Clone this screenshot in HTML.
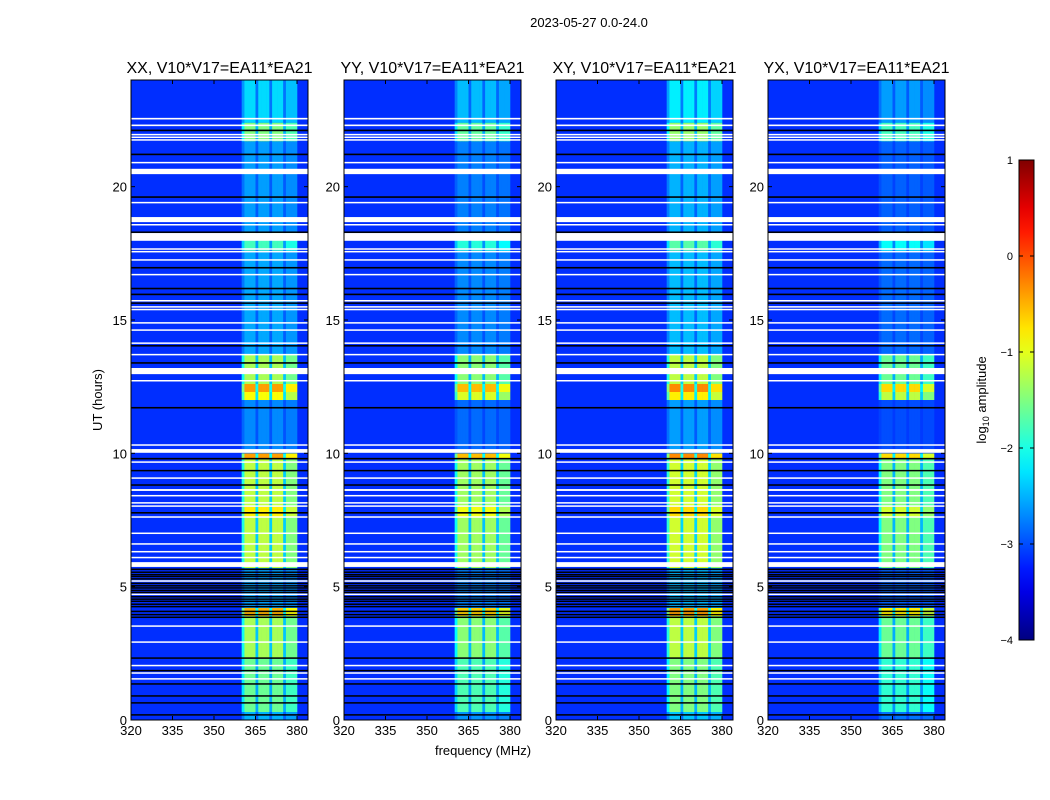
<!DOCTYPE html>
<html><head><meta charset="utf-8"><style>
body{margin:0;background:#fff;}
#root{position:relative;width:1050px;height:800px;overflow:hidden;font-family:"Liberation Sans","DejaVu Sans",sans-serif;}
</style></head><body>
<div id="root">
<svg id="svg" width="1050" height="800" style="position:absolute;left:0;top:0"></svg>
</div>
<script>
// ---- data ----
const panelTitles = ["XX, V10*V17=EA11*EA21","YY, V10*V17=EA11*EA21","XY, V10*V17=EA11*EA21","YX, V10*V17=EA11*EA21"];
const panelOffsets = [0, -0.15, 0.1, -0.3];
const freqTicks = [320,335,350,365,380];
const timeTicks = [0,5,10,15,20];
const cbarTicks = [1,0,-1,-2,-3,-4];
const backgroundLevel = -3.15;
// channel profile (1 MHz channels 320..383): 0=background, 1=band, fraction=dimmer
const channelProfile = [];
for (let c = 320; c < 384; c++) {
  let w = 0;
  if (c >= 360 && c < 380) w = 1;
  if (c === 360) w = 0.6;
  if (c === 365 || c === 370 || c === 375) w = 0.4;
  if (c >= 376 && c < 380) w = 0.85;
  channelProfile.push(w);
}
// band level segments [startHour, endHour, log10 amplitude]
const bandSegments = [[0,0.3,-2.5],[0.3,2.3,-1.6],[2.3,3.9,-1.3],[3.9,4.2,-0.5],[4.2,5.7,-2.6],[5.7,7.6,-1.2],[7.6,8.0,-0.8],[8.0,9.8,-1.2],[9.8,10.0,-0.4],[10.0,12.0,-2.7],[12.0,12.3,-0.9],[12.3,12.6,-0.4],[12.6,13.7,-1.3],[13.7,17.6,-2.55],[17.6,18.3,-1.8],[18.3,21.7,-2.6],[21.7,22.4,-1.5],[22.4,24,-2.3]];
// flagged rows (white) [start,end] hours
const whiteFlags = [[22.52,22.58],[22.27,22.33],[21.93,21.98],[21.83,21.88],[21.73,21.78],[20.88,20.93],[20.47,20.67],[19.38,19.43],[18.67,18.86],[18.55,18.6],[17.97,18.26],[17.64,17.69],[17.54,17.59],[17.23,17.28],[16.68,16.73],[15.7,15.75],[15.47,15.52],[15.37,15.42],[14.87,14.92],[14.6,14.65],[14.11,14.16],[13.68,13.73],[12.97,13.2],[12.7,12.75],[10.29,10.34],[10.02,10.16],[9.65,9.7],[9.05,9.1],[8.59,8.66],[8.39,8.44],[8.12,8.17],[8.0,8.05],[7.59,7.64],[6.98,7.03],[6.58,6.63],[6.29,6.34],[6.07,6.12],[5.74,5.92],[5.2,5.24],[4.7,4.74],[3.5,3.55],[2.9,2.95],[2.02,2.07],[1.74,1.79],[1.52,1.57]];
// flagged rows (black) [start,end] hours
const blackFlags = [[22.08,22.14],[21.18,21.24],[19.58,19.64],[18.28,18.32],[16.93,16.99],[16.15,16.21],[15.93,15.99],[15.61,15.66],[14.01,14.06],[13.36,13.42],[11.68,11.74],[9.77,9.83],[9.33,9.38],[8.79,8.84],[7.74,7.8],[5.62,5.68],[5.52,5.57],[5.44,5.48],[5.36,5.41],[5.28,5.32],[5.1,5.15],[5.02,5.06],[4.94,4.98],[4.84,4.89],[4.78,4.81],[4.6,4.65],[4.52,4.56],[4.44,4.48],[4.32,4.37],[4.24,4.28],[4.05,4.1],[3.93,3.98],[3.83,3.88],[2.3,2.35],[1.83,1.88],[1.33,1.38],[0.88,0.93],[0.62,0.67],[0.17,0.22]];

// ---- layout ----
const panelLefts = [131,344,556,768];
const panelWidth = 177, plotTop = 80, plotBottom = 720;
const NS = "http://www.w3.org/2000/svg";
const svg = document.getElementById('svg');
function xScale(left, f){ return left + (f-320)*41.5/15; }
function yScale(h){ return plotBottom - h*(plotBottom-plotTop)/24; }
function jet(v){
  let x = (v+4)/5; x = Math.max(0,Math.min(1,x));
  const c = t => Math.round(255*Math.max(0,Math.min(1,t)));
  return `rgb(${c(1.5-Math.abs(4*x-3))},${c(1.5-Math.abs(4*x-2))},${c(1.5-Math.abs(4*x-1))})`;
}
function mk(tag, attrs, parent){
  const e = document.createElementNS(NS, tag);
  for (const k in attrs) e.setAttribute(k, attrs[k]);
  (parent||svg).appendChild(e); return e;
}
function txt(x,y,s,size,anchor,parent){
  const t = mk('text',{x:x,y:y,'font-size':size,'text-anchor':anchor||'middle',fill:'#000','font-family':'Liberation Sans, DejaVu Sans, sans-serif'},parent);
  t.textContent = s; return t;
}

const sup = txt(589,27,"2023-05-27 0.0-24.0",13);



panelTitles.forEach((title, p) => {
  const left = panelLefts[p];
  const g = mk('g',{});
  
  
  const bg = mk('rect',{x:left,y:plotTop,width:panelWidth,height:plotBottom-plotTop,fill:jet(backgroundLevel)},g);
  
  
  bandSegments.forEach(seg => {
    channelProfile.forEach((w, ci) => {
      if (w <= 0) return;
      const lvl = backgroundLevel + w*((seg[2]+panelOffsets[p]) - backgroundLevel);
      const f = 320 + ci;
      const r = mk('rect',{x:xScale(left,f),y:yScale(seg[1]),width:xScale(left,f+1)-xScale(left,f)+0.3,height:yScale(seg[0])-yScale(seg[1]),fill:jet(lvl)},g);
      
      
    });
  });
  whiteFlags.forEach(fl => {
    const r = mk('rect',{x:left,y:yScale(fl[1]),width:panelWidth,height:Math.max(1.5,yScale(fl[0])-yScale(fl[1])),fill:'#fff'},g);
    
    
  });
  blackFlags.forEach(fl => {
    const r = mk('rect',{x:left,y:yScale(fl[1]),width:panelWidth,height:Math.max(1.5,yScale(fl[0])-yScale(fl[1])),fill:'#000'},g);
    
    
  });
  const fr = mk('rect',{x:left,y:plotTop,width:panelWidth,height:plotBottom-plotTop,fill:'none',stroke:'#000','stroke-width':1},g);
  
  
  freqTicks.forEach(f => {
    const x = xScale(left,f);
    mk('line',{x1:x,x2:x,y1:plotBottom,y2:plotBottom-4,stroke:'#000'},g);
    mk('line',{x1:x,x2:x,y1:plotTop,y2:plotTop+4,stroke:'#000'},g);
    const t = txt(x,plotBottom+15,String(f),13,'middle',g);
    
    
  });
  timeTicks.forEach(h => {
    const y = yScale(h);
    mk('line',{x1:left,x2:left+4,y1:y,y2:y,stroke:'#000'},g);
    mk('line',{x1:left+panelWidth,x2:left+panelWidth-4,y1:y,y2:y,stroke:'#000'},g);
    const t = txt(left-4,y+5,String(h),13,'end',g);
    
    
  });
  const tt = txt(left+panelWidth/2,73,title,16,'middle',g);
  
  
});

const xl = txt(483,755,"frequency (MHz)",13);


const yl = txt(0,0,"UT (hours)",13);
yl.setAttribute('transform','translate(102,400) rotate(-90)');



// colorbar
const defs = mk('defs',{});
const grad = mk('linearGradient',{id:'jetg',x1:0,y1:1,x2:0,y2:0},defs);
for (let i=0;i<=20;i++){ mk('stop',{offset:i/20,'stop-color':jet(-4+5*i/20)},grad); }
const cbY = v => 640 - (v+4)*96;
const cb = mk('rect',{x:1019,y:160,width:15,height:480,fill:'url(#jetg)',stroke:'#000','stroke-width':1});


cbarTicks.forEach(v => {
  const y = cbY(v);
  mk('line',{x1:1019,x2:1023,y1:y,y2:y,stroke:'#000'});
  mk('line',{x1:1030,x2:1034,y1:y,y2:y,stroke:'#000'});
  const t = txt(1013,y+4,v<0?'\u2212'+(-v):String(v),11,'end');
  
  
});
const cl = mk('text',{transform:'translate(986,400) rotate(-90)','font-size':13,'text-anchor':'middle','font-family':'Liberation Sans, DejaVu Sans, sans-serif'});
cl.innerHTML = 'log<tspan font-size="9" dy="3">10</tspan><tspan dy="-3"> amplitude</tspan>';


</script>
</body></html>
